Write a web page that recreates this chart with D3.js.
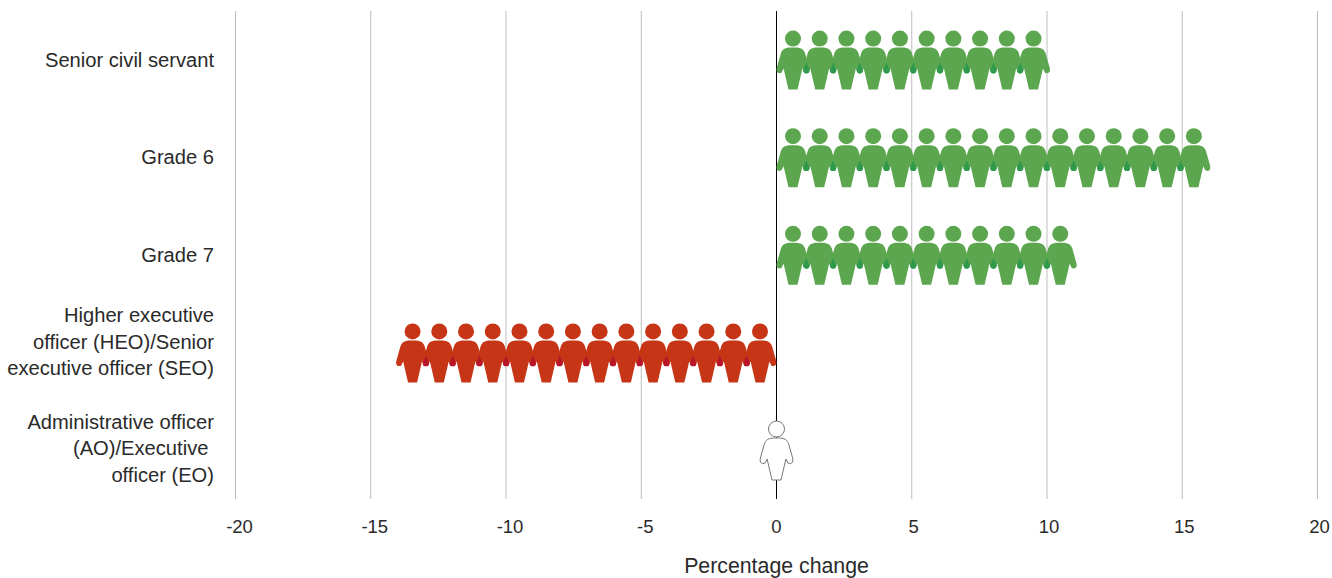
<!DOCTYPE html>
<html><head><meta charset="utf-8">
<style>html,body{margin:0;padding:0;background:#fff;overflow:hidden}
text{font-family:"Liberation Sans",Helvetica,Arial,sans-serif;fill:#2a2a2a}</style>
<script src="https://cdn.jsdelivr.net/npm/d3@7"></script></head><body><svg id="c" width="1332" height="578"></svg>
<script>
const categories = ["Senior civil servant","Grade 6","Grade 7","Higher executive officer (HEO)/Senior executive officer (SEO)","Administrative officer (AO)/Executive officer (EO)"];
const categoryLines = [["Senior civil servant"],["Grade 6"],["Grade 7"],["Higher executive","officer (HEO)/Senior","executive officer (SEO)"],["Administrative officer","(AO)/Executive ","officer (EO)"]];
const values = [10,16,11,-14,0];
const xTicks = [-20,-15,-10,-5,0,5,10,15,20];
const axisTitle = "Percentage change";
const GREEN="#5ca650", GREEN_DARK="#2f9a4c", RED="#c73517", RED_DARK="#b8152a";

const svg=d3.select("#c");
const x=d3.scaleLinear().domain([-20,20]).range([235,1317]);
const y=d3.scaleBand().domain(categories).range([11,499]);
const FS=20.15;

// gridlines + tick labels
const axis=svg.append("g").attr("transform","translate(0,11)")
 .call(d3.axisBottom(x).tickValues(xTicks).tickSize(488).tickSizeOuter(0).tickPadding(0).tickFormat(d=>String(d)));
axis.select(".domain").remove();
axis.selectAll(".tick line").attr("stroke",d=>d===0?"#000":"#bdbdbd").attr("stroke-width",1);
axis.selectAll(".tick text").attr("y",522).attr("dy",0).attr("dx",d=>d<0?4:d>0?2:0)
 .attr("font-size",18.5).attr("font-family",null).style("fill","#2a2a2a").attr("text-anchor","middle");

// person glyph, centred on (0,0)
const body="M0,-12.5C-5,-12.5 -10,-12.5 -12,-7L-16.4,8.5Q-17,12.6 -13.8,13.2Q-11,13.4 -10.4,10.5L-9.4,8.5L-4.5,29.5L4.5,29.5L9.4,8.5L10.4,10.5Q11,13.4 13.8,13.2Q17,12.6 16.4,8.5L12,-7C10,-12.5 5,-12.5 0,-12.5Z";
const overlap="M0,2.5L3.1,10Q3.5,13.3 0,13.4Q-3.5,13.3 -3.1,10Z";
const STEP=0.988, OFF=0.61;

const rows=svg.append("g").selectAll("g").data(categories.map((c,i)=>({c,v:values[i]}))).join("g")
 .attr("transform",d=>`translate(0,${y(d.c)+y.bandwidth()/2+0.3})`);
rows.each(function(d){
  const g=d3.select(this), n=Math.abs(d.v), s=Math.sign(d.v);
  if(n===0){
    const p=g.append("g").attr("transform",`translate(${x(0)+0.5},0)`);
    p.append("path").attr("d",body).attr("fill","#fff").attr("stroke","#777").attr("stroke-width",1);
    p.append("circle").attr("cy",-21.5).attr("r",8).attr("fill","#fff").attr("stroke","#777").attr("stroke-width",1);
    return;
  }
  const col=s>0?GREEN:RED, dark=s>0?GREEN_DARK:RED_DARK;
  const pos=d3.range(n).map(i=>s*(OFF+i*STEP));
  const p=g.selectAll("g").data(pos).join("g").attr("transform",v=>`translate(${x(v)+0.5},0)`);
  p.append("path").attr("d",body).attr("fill",col);
  p.append("circle").attr("cy",-21.5).attr("r",8).attr("fill",col);
  g.selectAll("path.ov").data(pos.slice(1)).join("path").attr("class","ov")
   .attr("d",overlap).attr("fill",dark)
   .attr("transform",v=>`translate(${x(v-s*STEP/2)+0.5},0)`);
});

// category labels
const nudge=[0,0,0,-11,-2];
const LH=26.7;
svg.append("g").selectAll("text").data(categories.map((c,i)=>({c,i}))).join("text")
 .attr("text-anchor","end").attr("font-size",FS)
 .attr("transform",d=>`translate(214,${y(d.c)+y.bandwidth()/2+nudge[d.i]})`)
 .each(function(d){
   const L=categoryLines[d.i];
   d3.select(this).selectAll("tspan").data(L).join("tspan").attr("x",0)
    .attr("xml:space","preserve")
    .attr("y",(t,j)=>(j-(L.length-1)/2)*LH+7).text(t=>t);
 });

svg.append("text").attr("x",x(0)+0.5).attr("y",573).attr("text-anchor","middle").attr("font-size",21.3).text(axisTitle);
</script></body></html>
